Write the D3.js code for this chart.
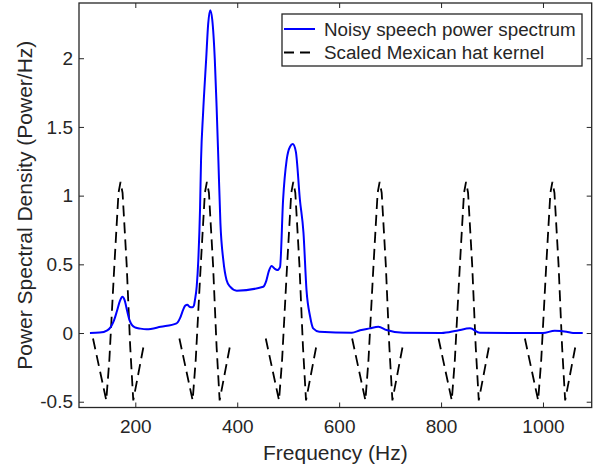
<!DOCTYPE html>
<html>
<head>
<meta charset="utf-8">
<script src="https://cdn.jsdelivr.net/npm/d3@7"></script>
<style>
  html, body { margin: 0; padding: 0; background: #fff; }
  svg { display: block; }
  text { font-family: "Liberation Sans", Arial, Helvetica, sans-serif; fill: #262626; }
</style>
</head>
<body>
<svg id="chart" width="600" height="468"></svg>
<script>
// ---------------- data ----------------
const xTicks = [200, 400, 600, 800, 1000];
const xTickLabels = ["200", "400", "600", "800", "1000"];
const yTicks = [-0.5, 0, 0.5, 1, 1.5, 2];
const yTickLabels = ["-0.5", "0", "0.5", "1", "1.5", "2"];

const seriesNames = ["Noisy speech power spectrum", "Scaled Mexican hat kernel"];

// noisy speech power spectrum (Hz, power/Hz)
const spectrumFreq = [111, 130, 145, 152, 158, 164, 170, 174.5, 179, 184, 189, 194, 200, 210, 222, 250, 281, 288, 294, 298, 302, 307, 312, 315, 317, 320.5, 323.6, 327, 329, 333, 339, 343, 347, 351, 356, 359.5, 363, 367, 372.7, 379, 386, 399, 451, 457, 462, 467.6, 473, 478.6, 484, 490, 497, 503.6, 509, 515, 523, 530, 536, 543, 549, 561, 625, 641, 660, 677, 693, 726, 801, 831, 857, 876, 1000, 1023, 1046, 1059, 1078];
const spectrumPower = [0, 0.003, 0.02, 0.045, 0.09, 0.16, 0.235, 0.264, 0.24, 0.16, 0.09, 0.055, 0.04, 0.032, 0.027, 0.045, 0.07, 0.11, 0.17, 0.2, 0.205, 0.19, 0.188, 0.2, 0.24, 0.34, 0.53, 0.9, 1.26, 1.6, 1.99, 2.25, 2.35, 2.28, 1.99, 1.65, 1.26, 0.8, 0.53, 0.386, 0.337, 0.308, 0.337, 0.38, 0.45, 0.488, 0.47, 0.458, 0.48, 0.97, 1.26, 1.356, 1.375, 1.32, 0.97, 0.73, 0.31, 0.12, 0.034, 0.01, 0.002, 0.02, 0.034, 0.046, 0.022, 0.002, 0, 0.017, 0.034, 0.002, 0, 0.017, 0.01, 0, 0];

// scaled Mexican hat kernels, one per harmonic (Hz, value)
const kernelValues = [-0.04, -0.49, -0.2, 0.5, 1.02, 1.1, 1.02, 0.5, -0.1, -0.49, -0.1];
const kernel1Freq = [117, 143, 149, 159, 167, 171, 175, 183, 190, 196, 216];
const kernel2Freq = [286.5, 312.5, 318.5, 328.5, 336.5, 340.5, 344.5, 352.5, 359.5, 365.5, 385.5];
const kernel3Freq = [456, 482, 488, 498, 506, 510, 514, 522, 529, 535, 555];
const kernel4Freq = [625.5, 651.5, 657.5, 667.5, 675.5, 679.5, 683.5, 691.5, 698.5, 704.5, 724.5];
const kernel5Freq = [795, 821, 827, 837, 845, 849, 853, 861, 868, 874, 894];
const kernel6Freq = [964.5, 990.5, 996.5, 1006.5, 1014.5, 1018.5, 1022.5, 1030.5, 1037.5, 1043.5, 1063.5];
const kernelFreqs = [kernel1Freq, kernel2Freq, kernel3Freq, kernel4Freq, kernel5Freq, kernel6Freq];

// ---------------- layout ----------------
const svg = d3.select("#chart");
const plot = { left: 79, right: 591.7, top: 3, bottom: 407.5 };
const axisColor = "#262626";

const x = d3.scaleLinear().domain([89.5, 1095.6]).range([plot.left, plot.right]);
const y = d3.scaleLinear().domain([-0.542, 2.402]).range([plot.bottom, plot.top]);

svg.append("defs").append("clipPath").attr("id", "clip")
  .append("rect").attr("x", plot.left).attr("y", plot.top)
  .attr("width", plot.right - plot.left).attr("height", plot.bottom - plot.top);

const line = d3.line().x(d => x(d[0])).y(d => y(d[1]));

const g = svg.append("g").attr("clip-path", "url(#clip)");

// kernels
kernelFreqs.forEach(freqs => {
  g.append("path")
    .datum(freqs.map((f, i) => [f, kernelValues[i]]))
    .attr("d", line)
    .attr("fill", "none")
    .attr("stroke", "#000")
    .attr("stroke-width", 1.8)
    .attr("stroke-dasharray", "11,6");
});

// spectrum
g.append("path")
  .datum(spectrumFreq.map((f, i) => [f, spectrumPower[i]]))
  .attr("d", d3.line().x(d => x(d[0])).y(d => y(d[1])).curve(d3.curveMonotoneX))
  .attr("fill", "none")
  .attr("stroke", "#0000ff")
  .attr("stroke-width", 2)
  .attr("stroke-linejoin", "round");

// ---------------- axes ----------------
const fontSize = 19;
function styleAxis(sel) {
  sel.select(".domain").remove();
  sel.selectAll(".tick line").attr("stroke", axisColor).attr("stroke-width", 1);
  sel.selectAll(".tick text").attr("fill", axisColor).style("font-size", fontSize + "px")
    .style("font-family", "'Liberation Sans', Arial, sans-serif");
}

const xAxisB = svg.append("g").attr("transform", `translate(0,${plot.bottom})`)
  .call(d3.axisBottom(x).tickValues(xTicks).tickSizeInner(-5).tickSizeOuter(0).tickPadding(12)
    .tickFormat((d, i) => xTickLabels[i]));
styleAxis(xAxisB);

const xAxisT = svg.append("g").attr("transform", `translate(0,${plot.top})`)
  .call(d3.axisTop(x).tickValues(xTicks).tickSizeInner(-5).tickSizeOuter(0).tickFormat(""));
styleAxis(xAxisT);

const yAxisL = svg.append("g").attr("transform", `translate(${plot.left},0)`)
  .call(d3.axisLeft(y).tickValues(yTicks).tickSizeInner(-5).tickSizeOuter(0).tickPadding(6)
    .tickFormat((d, i) => yTickLabels[i]));
styleAxis(yAxisL);

const yAxisR = svg.append("g").attr("transform", `translate(${plot.right},0)`)
  .call(d3.axisRight(y).tickValues(yTicks).tickSizeInner(-5).tickSizeOuter(0).tickFormat(""));
styleAxis(yAxisR);

// frame
svg.append("rect")
  .attr("x", plot.left).attr("y", plot.top)
  .attr("width", plot.right - plot.left).attr("height", plot.bottom - plot.top)
  .attr("fill", "none").attr("stroke", axisColor).attr("stroke-width", 1.3);

// axis labels
svg.append("text")
  .attr("x", (plot.left + plot.right) / 2).attr("y", 459.5)
  .attr("text-anchor", "middle")
  .style("font-size", "21px")
  .text("Frequency (Hz)");

svg.append("text")
  .attr("transform", `translate(32,${(plot.top + plot.bottom) / 2}) rotate(-90)`)
  .attr("text-anchor", "middle")
  .style("font-size", "21px")
  .text("Power Spectral Density (Power/Hz)");

// ---------------- legend ----------------
const lg = svg.append("g");
const lgBox = { x: 282, y: 14, w: 300, h: 52 };
lg.append("rect")
  .attr("x", lgBox.x).attr("y", lgBox.y).attr("width", lgBox.w).attr("height", lgBox.h)
  .attr("fill", "#fff").attr("stroke", axisColor).attr("stroke-width", 1.3);

const legendStyles = [
  { stroke: "#0000ff", width: 2, dash: null },
  { stroke: "#000", width: 1.8, dash: "10,6" }
];
seriesNames.forEach((name, i) => {
  const cy = 29 + i * 23.5;
  lg.append("line")
    .attr("x1", 284).attr("x2", 315).attr("y1", cy).attr("y2", cy)
    .attr("stroke", legendStyles[i].stroke).attr("stroke-width", legendStyles[i].width)
    .attr("stroke-dasharray", legendStyles[i].dash);
  lg.append("text")
    .attr("x", 324).attr("y", cy).attr("dy", "0.35em")
    .style("font-size", "18.8px")
    .text(name);
});
</script>
</body>
</html>
